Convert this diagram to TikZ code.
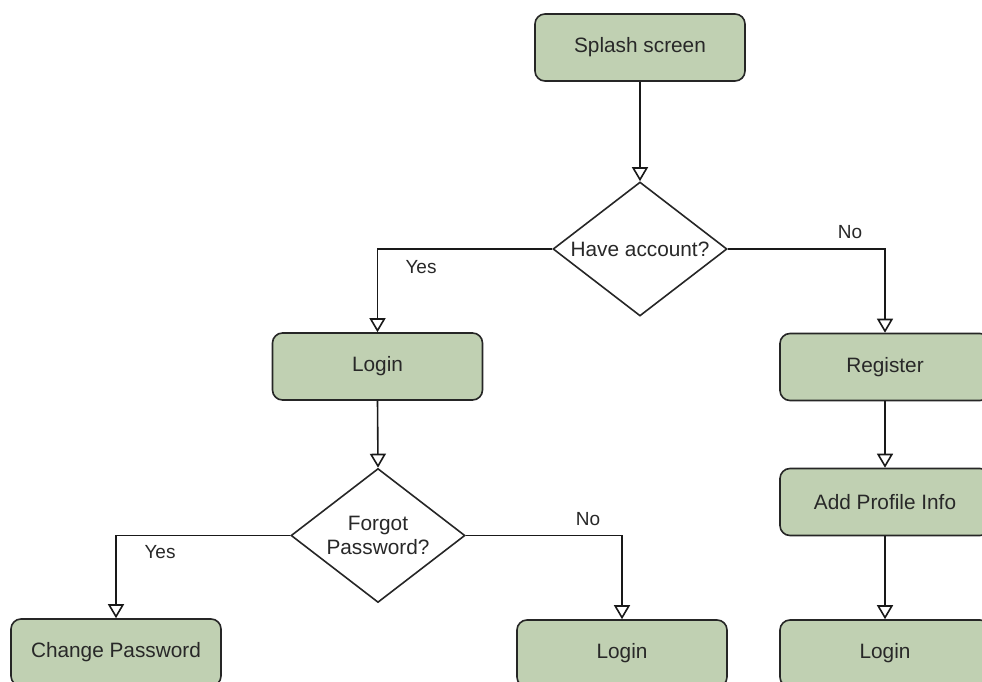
\documentclass[tikz,border=0pt]{standalone}
\usepackage{fontspec}
\setmainfont{Liberation Sans}
\usetikzlibrary{shapes.geometric,arrows.meta}
\definecolor{boxfill}{RGB}{192,208,178}
\definecolor{txt}{RGB}{40,40,40}
\begin{document}
\begin{tikzpicture}[x=1pt,y=-1pt,
  font=\fontsize{20.8}{24}\selectfont,
  stepbox/.style={draw=black!85, line width=1.6pt, fill=boxfill, rounded corners=10pt,
    minimum width=210pt, minimum height=67pt, text=txt, inner sep=0pt},
  decision/.style={draw=black!85, line width=1.6pt, fill=white, diamond, aspect=1.3,
    minimum width=174pt, minimum height=134pt, text=txt, inner sep=0pt, align=center},
  conn/.style={draw=black!90, line width=1.6pt, -{Triangle[open,length=14pt,width=16pt,line width=1.6pt]}},
  lbl/.style={text=txt, font=\fontsize{19}{22}\selectfont, inner sep=0pt}]
\clip (0,0) rectangle (982,682);
\fill[white] (0,0) rectangle (982,682);
\node[stepbox] (splash) at (640,47.5) {Splash screen};
\node[decision] (ha) at (640,249) {Have account?};
\node[stepbox] (login1) at (377.5,366.5) {Login};
\node[stepbox] (reg) at (885,367) {Register};
\node[stepbox] (api) at (885,502) {Add Profile Info};
\node[decision] (fp) at (378,535.5) {Forgot\\Password?};
\node[stepbox] (cp) at (116,652.5) {Change Password};
\node[stepbox] (login2) at (622,653.5) {Login};
\node[stepbox] (login3) at (885,653.5) {Login};
\draw[conn] (splash.south) -- (ha.north);
\draw[conn] (ha.west) -| (login1.north);
\draw[conn] (ha.east) -| (reg.north);
\draw[conn] (login1.south) -- (fp.north);
\draw[conn] (reg.south) -- (api.north);
\draw[conn] (api.south) -- (login3.north);
\draw[conn] (fp.west) -| (cp.north);
\draw[conn] (fp.east) -| (login2.north);
\node[lbl] (yes1) at (421,267) {Yes};
\node[lbl] (no1) at (850,232) {No};
\node[lbl] (yes2) at (160,552) {Yes};
\node[lbl] (no2) at (588,519) {No};
\end{tikzpicture}
\end{document}
